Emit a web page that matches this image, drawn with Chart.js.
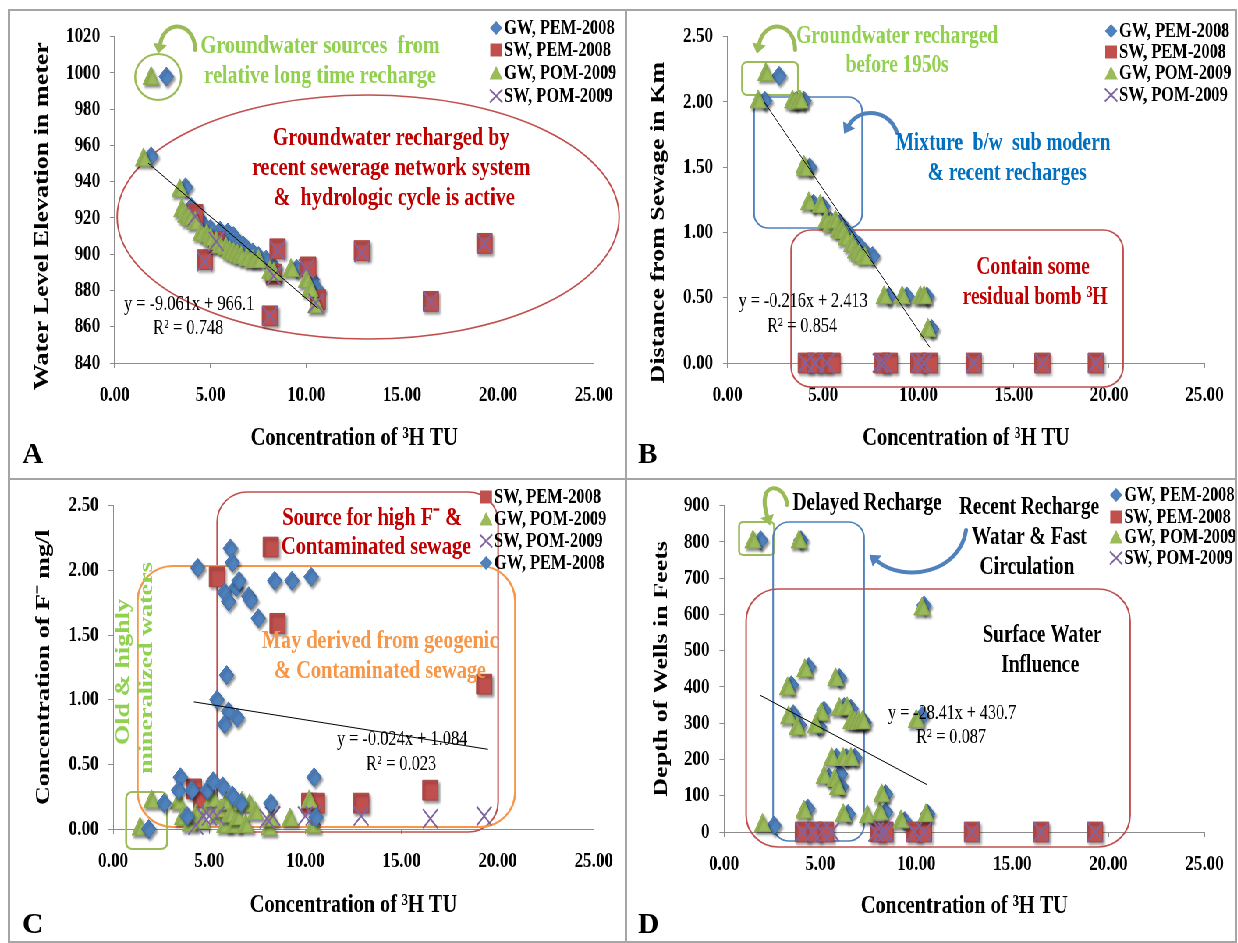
<!DOCTYPE html>
<html>
<head>
<meta charset="utf-8">
<title>Tritium vs groundwater parameters</title>
<script src="https://cdn.jsdelivr.net/npm/chart.js@4.4.1/dist/chart.umd.min.js"></script>
<style>
    body { margin: 0; background: #fff; }
    #figure { position: relative; width: 1238px; height: 943px; background: #fff; overflow: hidden; }
    #stage { position: absolute; left: 0; top: 0; height: 943px; transform-origin: 0 0; }
    #stage canvas { position: absolute; }
    .rule { position: absolute; background: #a5a5a5; }
</style>
</head>
<body>
<div id="figure">
    <div id="stage">
        <canvas id="chartA"></canvas>
        <canvas id="chartB"></canvas>
        <canvas id="chartC"></canvas>
        <canvas id="chartD"></canvas>
    </div>
    <div class="rule" style="left:8px;top:9px;width:1229px;height:2px"></div>
    <div class="rule" style="left:8px;top:941px;width:1229px;height:2px"></div>
    <div class="rule" style="left:8px;top:9px;width:2px;height:934px"></div>
    <div class="rule" style="left:1235px;top:9px;width:2px;height:934px"></div>
    <div class="rule" style="left:625px;top:9px;width:2px;height:934px"></div>
    <div class="rule" style="left:8px;top:478px;width:1229px;height:2px"></div>
</div>
<script>
// x axis of every panel: tritium concentration (TU)
const xTicks = [0, 5, 10, 15, 20, 25];

// Panel A - water level elevation (m)
const aTicks = [840, 860, 880, 900, 920, 940, 960, 980, 1000, 1020];
const aGwPem = [[2.7, 998], [1.9, 954], [3.7, 937], [4.0, 926], [4.3, 921], [4.6, 917], [5.0, 914], [5.5, 913],
    [5.9, 912], [6.2, 910], [6.4, 907], [6.7, 905], [6.9, 903], [7.2, 901], [7.5, 899], [7.9, 897], [8.3, 893],
    [9.5, 892], [10.3, 886], [10.6, 880]];
const aSwPem = [[4.2, 922], [4.7, 897], [5.3, 907], [8.1, 866], [8.3, 889], [8.5, 903], [10.1, 893], [10.6, 875],
    [12.9, 902], [16.5, 874], [19.3, 906]];
const aGwPom = [[1.9, 997], [1.5, 952], [3.4, 935], [3.5, 924], [3.7, 921], [3.9, 919], [4.2, 917], [4.5, 911],
    [4.8, 910], [5.0, 908], [5.3, 906], [5.5, 904], [5.8, 903], [6.0, 901], [6.2, 900], [6.4, 899], [6.6, 898],
    [6.9, 897], [7.2, 896], [7.5, 896], [8.1, 890], [8.3, 889], [9.2, 891], [10.0, 885], [10.2, 880], [10.5, 871]];
const aSwPom = [[4.2, 921], [4.7, 896], [5.3, 907], [8.1, 866], [8.3, 888], [8.5, 902], [10.0, 892], [10.5, 873],
    [12.9, 901], [16.5, 874], [19.3, 906]];
const aTrend = [[1.75, 950.2], [10.6, 870.1]];

// Panel B - distance from sewage (km)
const bTicks = [0, 0.5, 1, 1.5, 2, 2.5];
const bGwPem = [[2.7, 2.2], [1.95, 2.01], [3.6, 2.01], [4.0, 2.01], [4.3, 1.5], [4.5, 1.22], [5.0, 1.2], [5.4, 1.09],
    [5.9, 1.07], [6.2, 1.02], [6.5, 0.96], [6.9, 0.9], [7.2, 0.85], [7.6, 0.82], [8.45, 0.51], [9.4, 0.51],
    [10.45, 0.51], [10.7, 0.26]];
const bSwPem = [[4.1, 0], [4.6, 0], [5.1, 0], [5.5, 0], [8.1, 0], [8.5, 0], [10.0, 0], [10.6, 0], [12.9, 0],
    [16.5, 0], [19.3, 0]];
const bGwPom = [[2.0, 2.21], [1.6, 2.0], [3.4, 2.0], [3.6, 1.99], [3.8, 2.0], [4.0, 1.5], [4.05, 1.48], [4.25, 1.22],
    [4.85, 1.2], [5.15, 1.08], [5.4, 1.05], [5.65, 1.08], [5.8, 1.01], [6.0, 1.0], [6.2, 0.95], [6.5, 0.9],
    [6.7, 0.85], [6.9, 0.82], [7.2, 0.8], [8.2, 0.5], [9.15, 0.5], [10.1, 0.5], [10.3, 0.5], [10.5, 0.25]];
const bSwPom = [[4.1, 0], [4.6, 0], [5.2, 0], [8.0, 0], [8.2, 0], [10.0, 0], [10.3, 0], [12.9, 0], [16.5, 0], [19.3, 0]];
const bTrend = [[1.92, 2.0], [10.6, 0.12]];

// Panel C - fluoride (mg/l)
const cTicks = [0, 0.5, 1, 1.5, 2, 2.5];
const cSwPem = [[4.2, 0.31], [4.6, 0.24], [5.4, 1.95], [8.2, 2.18], [8.55, 1.59], [10.2, 0.2], [10.6, 0.2],
    [12.9, 0.2], [16.5, 0.3], [19.3, 1.12]];
const cGwPom = [[1.4, 0], [2.0, 0.21], [3.4, 0.2], [3.6, 0.08], [4.0, 0.03], [4.3, 0.1], [4.6, 0.05], [5.0, 0.18],
    [5.2, 0.22], [5.4, 0.1], [5.6, 0.14], [5.8, 0.02], [5.9, 0.2], [6.1, 0.1], [6.3, 0.02], [6.5, 0.08], [6.7, 0.2],
    [6.9, 0.02], [7.1, 0.18], [7.4, 0.12], [8.1, 0.0], [8.2, 0.07], [9.2, 0.07], [10.2, 0.21], [10.4, 0.02]];
const cSwPom = [[4.3, 0.03], [4.7, 0.1], [5.0, 0.1], [5.4, 0.1], [8.0, 0.08], [8.3, 0.1], [10.0, 0.1], [10.4, 0.1],
    [12.9, 0.1], [16.5, 0.08], [19.3, 0.1]];
const cGwPem = [[4.4, 2.02], [6.1, 2.17], [6.2, 2.06], [5.8, 1.83], [6.0, 1.76], [6.4, 1.87], [6.55, 1.92],
    [7.05, 1.8], [7.15, 1.77], [7.55, 1.63], [8.4, 1.92], [9.3, 1.92], [10.3, 1.95], [5.9, 1.19], [5.4, 1.0],
    [6.0, 0.91], [5.8, 0.81], [6.45, 0.86], [3.5, 0.4], [3.4, 0.3], [4.1, 0.3], [4.9, 0.3], [5.2, 0.37], [5.7, 0.33],
    [6.2, 0.26], [6.65, 0.2], [3.85, 0.1], [8.2, 0.2], [10.45, 0.4], [10.55, 0.09], [1.85, 0.0], [2.65, 0.2]];
const cTrend = [[4.2, 0.983], [19.5, 0.616]];

// Panel D - depth of wells (feet)
const dTicks = [0, 100, 200, 300, 400, 500, 600, 700, 800, 900];
const dGwPem = [[1.9, 805], [4.0, 805], [10.4, 625], [4.4, 455], [6.0, 425], [3.5, 405], [3.6, 325], [3.9, 295],
    [5.2, 335], [4.95, 290], [6.25, 345], [6.6, 340], [7.3, 302], [5.85, 205], [6.35, 205], [6.8, 205], [5.45, 150],
    [6.05, 160], [6.1, 125], [4.35, 65], [6.45, 50], [8.4, 105], [8.4, 55], [9.4, 30], [10.6, 50], [2.6, 18],
    [10.3, 320]];
const dSwPem = [[4.1, 0], [4.7, 0], [5.3, 0], [8.0, 0], [8.4, 0], [9.9, 0], [10.4, 0], [12.9, 0], [16.5, 0], [19.3, 0]];
const dGwPom = [[1.5, 800], [3.9, 800], [10.3, 615], [4.2, 445], [5.8, 420], [3.3, 395], [3.35, 315], [3.8, 285],
    [5.05, 325], [4.75, 290], [6.0, 338], [6.4, 340], [6.6, 302], [6.8, 300], [7.0, 300], [7.2, 302], [5.6, 200],
    [6.2, 200], [6.6, 200], [5.2, 150], [5.75, 142], [5.9, 120], [4.15, 55], [6.2, 45], [7.45, 42], [8.1, 50],
    [8.2, 100], [9.2, 28], [10.5, 45], [2.0, 18], [10.0, 305]];
const dSwPom = [[4.1, 0], [4.6, 0], [5.1, 0], [5.6, 0], [7.9, 0], [8.2, 0], [8.4, 0], [9.9, 0], [10.4, 0], [12.9, 0],
    [16.5, 0], [19.3, 0]];
const dTrend = [[1.88, 377], [10.58, 130]];

// the original figure is a horizontally squeezed Excel chart: draw wide, squeeze with CSS
const SX = 0.78;
const SERIF = '"Liberation Serif", "Times New Roman", serif';
const AXIS = '#8c8c8c';
const LGREEN = '#92D050', DRED = '#C00000', BLUE_T = '#0070C0', ORANGE = '#F79646';

const STYLE = {
    gwPem: { label: 'GW, PEM-2008', shape: 'rectRot', radius: 9.5, fill: '#4F81BD', line: '#3F6FAA', width: 1, shadow: true },
    swPem: { label: 'SW, PEM-2008', shape: 'rect', radius: 14, fill: '#C0504D', line: '#A94441', width: 1, shadow: true },
    gwPom: { label: 'GW, POM-2009', shape: 'triangle', radius: 12, fill: '#9BBB59', line: '#89A94A', width: 1, shadow: true },
    swPom: { label: 'SW, POM-2009', shape: 'crossRot', radius: 13.5, fill: '#8064A2', line: '#8064A2', width: 2, shadow: false }
};

function label(ctx, text, cx, cy, size, width, color, bold = true, rot = 0) {
    ctx.save();
    ctx.translate(cx, cy);
    if (rot) ctx.rotate(rot);
    ctx.font = (bold ? 'bold ' : '') + size + 'px ' + SERIF;
    ctx.fillStyle = color;
    ctx.textAlign = 'center';
    ctx.textBaseline = 'middle';
    ctx.fillText(text, 0, 0, width);
    ctx.restore();
}

function rrect(ctx, x, y, w, h, r, color, lw = 1.6) {
    ctx.strokeStyle = color;
    ctx.lineWidth = lw;
    ctx.beginPath();
    ctx.roundRect(x, y, w, h, r);
    ctx.stroke();
}

function arrow(ctx, pts, color) {
    const [x0, y0, c1x, c1y, c2x, c2y, x1, y1] = pts;
    ctx.strokeStyle = color;
    ctx.lineWidth = 4;
    ctx.lineCap = 'round';
    ctx.beginPath();
    ctx.moveTo(x0, y0);
    ctx.bezierCurveTo(c1x, c1y, c2x, c2y, x1, y1);
    ctx.stroke();
    const a = Math.atan2(y1 - c2y, x1 - c2x);
    ctx.fillStyle = color;
    ctx.beginPath();
    ctx.moveTo(x1 + 10 * Math.cos(a), y1 + 10 * Math.sin(a));
    ctx.lineTo(x1 + 7 * Math.cos(a + Math.PI / 2), y1 + 7 * Math.sin(a + Math.PI / 2));
    ctx.lineTo(x1 - 7 * Math.cos(a + Math.PI / 2), y1 - 7 * Math.sin(a + Math.PI / 2));
    ctx.closePath();
    ctx.fill();
}

// legend symbols, in the wide (unsqueezed) canvas space
function legendMark(ctx, st, x, y) {
    ctx.fillStyle = st.fill;
    ctx.strokeStyle = st.line;
    ctx.lineWidth = 2;
    ctx.beginPath();
    if (st.shape === 'rectRot') {
        ctx.moveTo(x - 8, y); ctx.lineTo(x, y - 7); ctx.lineTo(x + 8, y); ctx.lineTo(x, y + 7);
        ctx.closePath(); ctx.fill();
    } else if (st.shape === 'rect') {
        ctx.rect(x - 7.5, y - 6.5, 15, 13); ctx.fill();
    } else if (st.shape === 'triangle') {
        ctx.moveTo(x, y - 7); ctx.lineTo(x + 8.5, y + 6.5); ctx.lineTo(x - 8.5, y + 6.5);
        ctx.closePath(); ctx.fill();
    } else {
        ctx.moveTo(x - 8, y - 6.5); ctx.lineTo(x + 8, y + 6.5);
        ctx.moveTo(x + 8, y - 6.5); ctx.lineTo(x - 8, y + 6.5);
        ctx.stroke();
    }
}

// soft drop shadow under the Excel-style markers
const shadowPlugin = {
    id: 'markerShadow',
    beforeDatasetDraw(chart, args) {
        if (!chart.data.datasets[args.index].shadow) return;
        const ctx = chart.ctx;
        ctx.shadowColor = 'rgba(0,0,0,0.45)';
        ctx.shadowBlur = 3;
        ctx.shadowOffsetX = 2;
        ctx.shadowOffsetY = 2.5;
    },
    afterDatasetDraw(chart) {
        const ctx = chart.ctx;
        ctx.shadowColor = 'rgba(0,0,0,0)';
        ctx.shadowBlur = 0;
        ctx.shadowOffsetX = 0;
        ctx.shadowOffsetY = 0;
    }
};

// every position below is in final (page) pixels
const panels = [
    {
        id: 'chartA', box: [10, 11, 614, 467], letter: ['A', 22, 463],
        series: [['gwPem', aGwPem], ['swPem', aSwPem], ['gwPom', aGwPom], ['swPom', aSwPom]],
        trend: aTrend, yTicks: aTicks, yMin: 840, yMax: 1020, yDec: 0,
        yTitle: 'Water Level Elevation in meter' + '\u00a0'.repeat(5),
        lay: { yw: 104.5, right: 29, top: 23, xh: 115, xtb: 24.4, ytc: 32.5 },
        legendX: 496, legendY: [28, 50, 73, 96],
        texts: [
            ['Groundwater sources  from', 320, 46, 26, 244, LGREEN],
            ['relative long time recharge', 320, 76, 26, 237, LGREEN],
            ['Groundwater recharged by', 391, 138, 26, 239, DRED],
            ['recent sewerage network system', 391, 168, 26, 281, DRED],
            ['&  hydrologic cycle is active', 394, 198, 26, 243, DRED],
            ['y = -9.061x + 966.1', 189, 304, 21, 136, '#000', false],
            ['R\u00b2 = 0.748', 188, 328, 21, 75, '#000', false]
        ],
        shapes(ctx) {
            ctx.strokeStyle = '#9BBB59';
            ctx.lineWidth = 2;
            ctx.beginPath();
            ctx.arc(158, 77, 23, 0, Math.PI * 2);
            ctx.stroke();
            ctx.strokeStyle = '#C0504D';
            ctx.lineWidth = 1.5;
            ctx.beginPath();
            ctx.ellipse(368, 217, 251, 122, 0, 0, Math.PI * 2);
            ctx.stroke();
            arrow(ctx, [195, 50, 195, 22, 165, 18, 160, 44], '#9BBB59');
        }
    },
    {
        id: 'chartB', box: [627, 11, 608, 467], letter: ['B', 638, 463],
        series: [['gwPem', bGwPem], ['swPem', bSwPem], ['gwPom', bGwPom], ['swPom', bSwPom]],
        trend: bTrend, yTicks: bTicks, yMin: 0, yMax: 2.5, yDec: 2,
        yTitle: 'Distance from Sewage in Km' + '\u00a0'.repeat(7),
        lay: { yw: 100.5, right: 22, top: 23, xh: 115, xtb: 24.4, ytc: 31.5 },
        legendX: 1111, legendY: [31, 52, 73, 95],
        texts: [
            ['Groundwater recharged', 897, 36, 26, 202, LGREEN],
            ['before 1950s', 897, 65, 26, 103, LGREEN],
            ['Mixture  b/w  sub modern', 1003, 143, 26, 215, BLUE_T],
            ['& recent recharges', 1007, 173, 26, 159, BLUE_T],
            ['Contain some', 1033, 267, 26, 113, DRED],
            ['residual bomb \u00b3H', 1035, 297, 26, 145, DRED],
            ['y = -0.216x + 2.413', 803, 301, 21, 129, '#000', false],
            ['R\u00b2 = 0.854', 802, 326, 21, 71, '#000', false]
        ],
        shapes(ctx) {
            rrect(ctx, 742, 62, 56, 33, 5, '#9BBB59', 2);
            rrect(ctx, 754, 97, 108, 131, 14, '#4F81BD');
            rrect(ctx, 791, 230, 332, 157, 20, '#C0504D');
            arrow(ctx, [795, 50, 795, 22, 765, 18, 759, 44], '#9BBB59');
            arrow(ctx, [897, 133, 890, 110, 860, 106, 849, 125], '#4F81BD');
        }
    },
    {
        id: 'chartC', box: [10, 480, 614, 461], letter: ['C', 22, 933],
        series: [['swPem', cSwPem], ['gwPom', cGwPom], ['swPom', cSwPom], ['gwPem', cGwPem]],
        trend: cTrend, yTicks: cTicks, yMin: 0, yMax: 2.5, yDec: 2,
        yTitle: 'Concentration of F\u207b mg/l',
        lay: { yw: 103, right: 29, top: 22, xh: 112, xtb: 20.4, ytc: 33.5 },
        legendX: 486, legendY: [497, 519, 541, 563],
        texts: [
            ['Source for high F\u207b &', 372, 518, 26, 180, DRED],
            ['Contaminated sewage', 376, 547, 26, 190, DRED],
            ['May derived from geogenic', 380, 641, 26, 240, ORANGE],
            ['& Contaminated sewage', 380, 671, 26, 215, ORANGE],
            ['Old & highly', 123, 672, 26, 147, LGREEN, true, -Math.PI / 2],
            ['mineralized waters', 147, 668, 26, 213, LGREEN, true, -Math.PI / 2],
            ['y = -0.024x + 1.084', 402, 739, 21, 136, '#000', false],
            ['R\u00b2 = 0.023', 401, 764, 21, 75, '#000', false]
        ],
        shapes(ctx) {
            rrect(ctx, 217, 492, 281, 340, 30, '#C0504D');
            rrect(ctx, 137.5, 566, 377.5, 261, 35, ORANGE, 2);
            rrect(ctx, 126, 792, 41, 57, 6, '#9BBB59', 2);
        }
    },
    {
        id: 'chartD', box: [627, 480, 608, 461], letter: ['D', 638, 933],
        series: [['gwPem', dGwPem], ['swPem', dSwPem], ['gwPom', dGwPom], ['swPom', dSwPom]],
        trend: dTrend, yTicks: dTicks, yMin: 0, yMax: 900, yDec: 0,
        yTitle: 'Depth of Wells in Feets',
        lay: { yw: 97, right: 22, top: 23, xh: 109, xtb: 18.7, ytc: 34.5 },
        legendX: 1116, legendY: [495, 517, 537, 558],
        texts: [
            ['Delayed Recharge', 867, 503, 26, 149, '#000'],
            ['Recent Recharge', 1029, 507, 26, 140, '#000'],
            ['Watar & Fast', 1029, 537, 26, 115, '#000'],
            ['Circulation', 1027, 567, 26, 95, '#000'],
            ['Surface Water', 1042, 635, 26, 119, '#000'],
            ['Influence', 1040, 665, 26, 78, '#000'],
            ['y = -28.41x + 430.7', 952, 713, 21, 128, '#000', false],
            ['R\u00b2 = 0.087', 951, 737, 21, 71, '#000', false]
        ],
        shapes(ctx) {
            rrect(ctx, 739, 522, 35, 33, 4, '#9BBB59', 2);
            rrect(ctx, 773, 522, 91, 319, 16, '#4F81BD');
            rrect(ctx, 746, 589, 384, 258, 32, '#C0504D');
            arrow(ctx, [787, 505, 785, 482, 756, 480, 767, 516], '#9BBB59');
            arrow(ctx, [966, 530, 960, 572, 905, 584, 877, 561], '#4F81BD');
        }
    }
];

function makePanel(p) {
    const [left, top, w, h] = p.box;
    const canvas = document.getElementById(p.id);
    canvas.width = Math.round(w / SX);
    canvas.height = h;
    canvas.style.left = (left / SX) + 'px';
    canvas.style.top = top + 'px';
    const ux = x => (x - left) / SX;
    const uy = y => y - top;

    const datasets = p.series.map(([key, pts], i) => {
        const st = STYLE[key];
        return {
            label: st.label,
            data: pts.map(([x, y]) => ({ x, y })),
            pointStyle: st.shape,
            pointRadius: st.radius,
            pointHoverRadius: st.radius,
            backgroundColor: st.fill,
            borderColor: st.line,
            borderWidth: st.width,
            order: p.series.length - i,
            clip: false,
            shadow: st.shadow
        };
    });
    datasets.push({
        label: 'Linear fit',
        data: p.trend.map(([x, y]) => ({ x, y })),
        showLine: true,
        pointRadius: 0,
        borderColor: '#000',
        borderWidth: 1,
        order: 0,
        clip: false
    });

    const decor = {
        id: 'decor',
        beforeDatasetsDraw(chart) {
            const ctx = chart.ctx;
            ctx.save();
            ctx.scale(1 / SX, 1);
            ctx.translate(-left, -top);
            p.shapes(ctx);
            ctx.restore();
        },
        afterDraw(chart) {
            const ctx = chart.ctx;
            ctx.save();
            p.texts.forEach(([s, cx, cy, size, tw, color, bold = true, rot = 0]) =>
                label(ctx, s, ux(cx), uy(cy), size, rot ? tw : tw / SX, color, bold, rot));
            // legend, drawn by hand so it can overlap the plot like Excel's
            p.series.forEach(([key], i) => {
                const st = STYLE[key];
                const y = uy(p.legendY[i]);
                legendMark(ctx, st, ux(p.legendX), y);
                ctx.font = 'bold 21px ' + SERIF;
                ctx.fillStyle = '#000';
                ctx.textAlign = 'left';
                ctx.textBaseline = 'middle';
                ctx.fillText(st.label, ux(p.legendX + 8), y + 1);
            });
            // panel letter keeps its full width
            const [letter, lx, ly] = p.letter;
            ctx.save();
            ctx.scale(1 / SX, 1);
            ctx.font = 'bold 29px ' + SERIF;
            ctx.fillStyle = '#000';
            ctx.textAlign = 'left';
            ctx.textBaseline = 'alphabetic';
            ctx.fillText(letter, lx - left, uy(ly));
            ctx.restore();
            ctx.restore();
        }
    };

    const tickFont = { family: SERIF, size: 22, weight: 'bold' };
    const titleLh = 26 * 1.2;

    return new Chart(canvas, {
        type: 'scatter',
        data: { datasets },
        options: {
            responsive: false,
            animation: false,
            devicePixelRatio: 1,
            events: [],
            layout: { padding: { top: p.lay.top, right: p.lay.right / SX, left: 0, bottom: 0 } },
            plugins: { legend: { display: false }, tooltip: { enabled: false } },
            scales: {
                x: {
                    type: 'linear',
                    min: 0,
                    max: 25,
                    afterBuildTicks: s => { s.ticks = xTicks.map(v => ({ value: v })); },
                    afterFit: s => { s.height = p.lay.xh; },
                    ticks: { font: tickFont, color: '#000', padding: 14, maxRotation: 0, autoSkip: false,
                        callback: v => Number(v).toFixed(2) },
                    grid: { drawOnChartArea: false, tickLength: 5, color: AXIS },
                    border: { color: AXIS },
                    title: { display: true, text: 'Concentration of \u00b3H TU', color: '#000',
                        font: { family: SERIF, size: 26, weight: 'bold' }, padding: { top: 0, bottom: p.lay.xtb } }
                },
                y: {
                    type: 'linear',
                    min: p.yMin,
                    max: p.yMax,
                    afterBuildTicks: s => { s.ticks = p.yTicks.map(v => ({ value: v })); },
                    afterFit: s => { s.width = p.lay.yw / SX; },
                    ticks: { font: tickFont, color: '#000', padding: 12.5, autoSkip: false,
                        callback: v => Number(v).toFixed(p.yDec) },
                    grid: { drawOnChartArea: false, tickLength: 6, color: AXIS },
                    border: { color: AXIS },
                    title: { display: true, text: p.yTitle, color: '#000',
                        font: { family: SERIF, size: 26, weight: 'bold' },
                        padding: { top: p.lay.ytc / SX - titleLh / 2, bottom: 0 } }
                }
            }
        },
        plugins: [shadowPlugin, decor]
    });
}

const stage = document.getElementById('stage');
stage.style.width = (1238 / SX) + 'px';
stage.style.transform = 'scaleX(' + SX + ')';
panels.forEach(makePanel);
</script>
</body>
</html>
